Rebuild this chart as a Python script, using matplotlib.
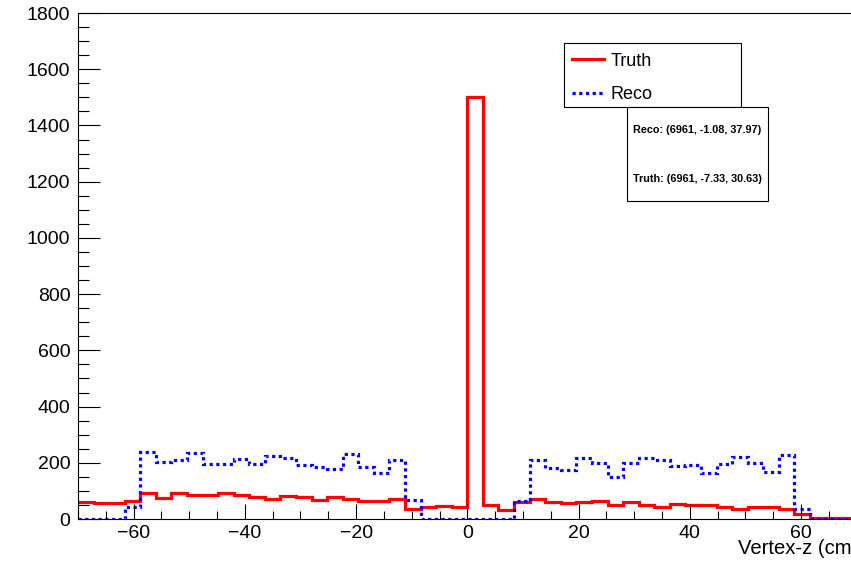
import numpy as np
import matplotlib.pyplot as plt
from matplotlib.patches import Rectangle
from matplotlib.ticker import MultipleLocator

plt.rcParams['font.family'] = ['Liberation Sans', 'DejaVu Sans']

# histogram binning (50 bins, -70..70 cm)
x_lo, x_hi, n_bins = -70, 70, 50

truth = [59, 56, 56, 65, 91, 76, 91, 84, 84, 91, 84, 77, 72, 82, 78, 68, 78, 72,
         65, 65, 71, 34, 42, 47, 42,
         1500,
         50, 32, 62, 71, 62, 57, 60, 64, 49, 60, 49, 44, 53, 49, 49, 44, 36, 44,
         44, 34, 17, 5, 5, 5]
reco = [0, 0, 0, 44, 237, 202, 210, 234, 195, 195, 213, 195, 224, 218, 192, 186,
        177, 232, 184, 165, 210, 68, 0, 0, 0,
        0, 0, 0, 64, 210, 183, 174, 216, 198, 148, 198, 216, 210, 190, 192, 165,
        196, 219, 198, 168, 228, 34, 0, 0, 0]

stats_reco = "Reco: (6961, -1.08, 37.97)"
stats_truth = "Truth: (6961, -7.33, 30.63)"

edges = np.linspace(x_lo, x_hi, n_bins + 1)

W, H = 851, 566
fig = plt.figure(figsize=(W / 100, H / 100), dpi=100)
# frame runs past the right edge of the canvas, like the original pad
ax = fig.add_axes([78 / W, 1 - 519 / H, (856.7 - 78) / W, (519 - 13) / H])

ax.stairs(truth, edges, baseline=None, color='#ff0000', lw=2.3, label='Truth')
ax.stairs(reco, edges, baseline=None, color='#0000ff', lw=2.3,
          linestyle=(0, (1, 1.1)), label='Reco')

ax.set_xlim(x_lo, x_hi)
ax.set_ylim(0, 1800)
ax.xaxis.set_major_locator(MultipleLocator(20))
ax.xaxis.set_minor_locator(MultipleLocator(5))
ax.yaxis.set_major_locator(MultipleLocator(200))
ax.yaxis.set_minor_locator(MultipleLocator(50))
ax.tick_params(which='both', direction='in', width=0.8, labelsize=14, top=False, right=False)
ax.tick_params(axis='x', which='major', length=10.8, pad=4)
ax.tick_params(axis='x', which='minor', length=5.8)
ax.tick_params(axis='y', which='major', length=15.8, pad=5.5)
ax.tick_params(axis='y', which='minor', length=7.9)
for s in ax.spines.values():
    s.set_linewidth(0.8)

# axis title is right-aligned past the canvas edge, so the ")" is cut off as in the original
fig.text(858.5 / W, 1 - 554 / H, 'Vertex-z (cm)', ha='right', va='baseline', fontsize=14.6)

# legend box
fig.add_artist(Rectangle((564 / W, 1 - 107 / H), 177 / W, 64 / H, transform=fig.transFigure,
                         fill=True, facecolor='white', edgecolor='black', lw=0.8))
leg = fig.legend(loc='upper left', bbox_to_anchor=(568.5 / W, 1 - 49 / H), frameon=False,
                 fontsize=13, handlelength=1.75, handletextpad=0.37, labelspacing=0.91,
                 borderpad=0.2, borderaxespad=0)

# stats box
fig.add_artist(Rectangle((627 / W, 1 - 201 / H), 141 / W, 94 / H, transform=fig.transFigure,
                         fill=True, facecolor='white', edgecolor='black', lw=0.8))
fig.text(697 / W, 1 - 130 / H, stats_reco, ha='center', va='center', fontsize=7.8,
         fontweight='bold')
fig.text(697 / W, 1 - 179 / H, stats_truth, ha='center', va='center', fontsize=7.8,
         fontweight='bold')

fig.savefig('out.png', dpi=100)
